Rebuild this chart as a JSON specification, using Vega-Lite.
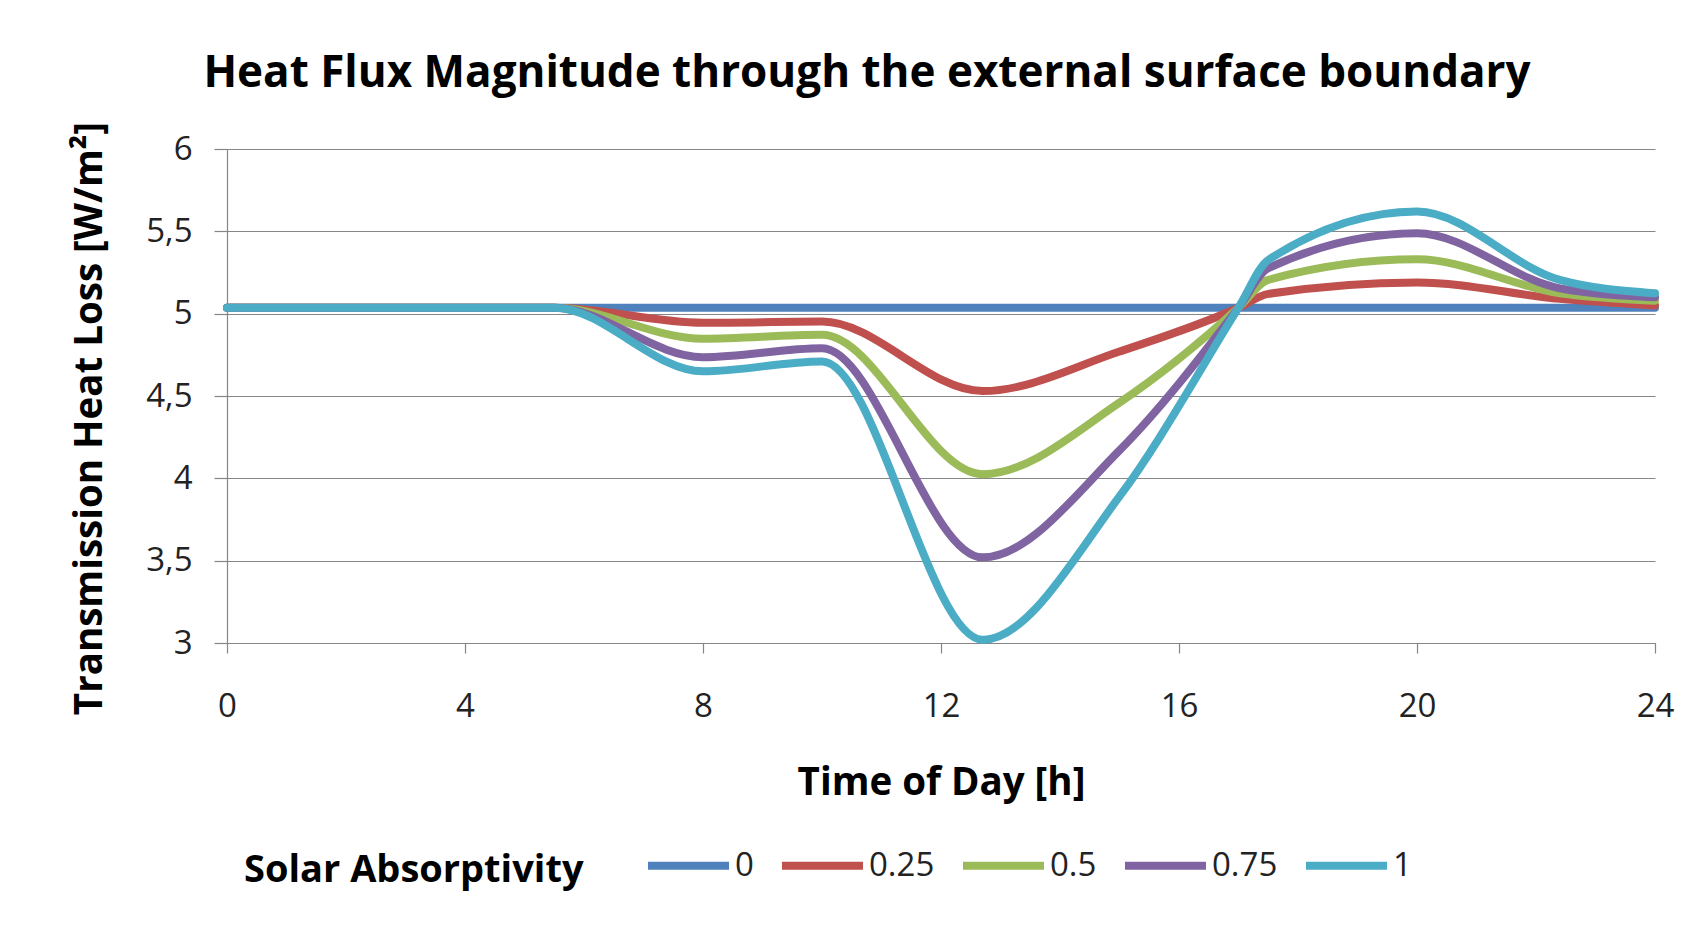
{
  "$schema": "https://vega.github.io/schema/vega-lite/v6.json",
  "width": 1428,
  "height": 494,
  "autosize": {"type": "none"},
  "padding": {"left": 227, "top": 149, "right": 49, "bottom": 301},
  "background": "white",
  "title": {
    "text": "Heat Flux Magnitude through the external surface boundary",
    "font": "Open Sans",
    "fontSize": 44,
    "fontWeight": "bold",
    "color": "#000000",
    "anchor": "middle",
    "dx": -74,
    "offset": -10,
    "baseline": "alphabetic"
  },
  "config": {"view": {"stroke": null}, "font": "Open Sans"},
  "data": {
    "values": [
      {"hour": 0, "val": 5.036, "a": "0"},
      {"hour": 5.5, "val": 5.036, "a": "0"},
      {"hour": 8, "val": 5.036, "a": "0"},
      {"hour": 10, "val": 5.036, "a": "0"},
      {"hour": 12.7, "val": 5.036, "a": "0"},
      {"hour": 15, "val": 5.036, "a": "0"},
      {"hour": 17, "val": 5.036, "a": "0"},
      {"hour": 17.5, "val": 5.036, "a": "0"},
      {"hour": 20, "val": 5.036, "a": "0"},
      {"hour": 22.4, "val": 5.036, "a": "0"},
      {"hour": 24, "val": 5.036, "a": "0"},

      {"hour": 0, "val": 5.036, "a": "0.25"},
      {"hour": 5.5, "val": 5.036, "a": "0.25"},
      {"hour": 8, "val": 4.945, "a": "0.25"},
      {"hour": 10, "val": 4.952, "a": "0.25"},
      {"hour": 12.7, "val": 4.53, "a": "0.25"},
      {"hour": 15, "val": 4.77, "a": "0.25"},
      {"hour": 17, "val": 5.036, "a": "0.25"},
      {"hour": 17.5, "val": 5.12, "a": "0.25"},
      {"hour": 20, "val": 5.19, "a": "0.25"},
      {"hour": 22.4, "val": 5.09, "a": "0.25"},
      {"hour": 24, "val": 5.05, "a": "0.25"},

      {"hour": 0, "val": 5.036, "a": "0.5"},
      {"hour": 5.5, "val": 5.036, "a": "0.5"},
      {"hour": 8, "val": 4.848, "a": "0.5"},
      {"hour": 10, "val": 4.872, "a": "0.5"},
      {"hour": 12.7, "val": 4.025, "a": "0.5"},
      {"hour": 15, "val": 4.46, "a": "0.5"},
      {"hour": 17, "val": 5.036, "a": "0.5"},
      {"hour": 17.5, "val": 5.205, "a": "0.5"},
      {"hour": 20, "val": 5.33, "a": "0.5"},
      {"hour": 22.4, "val": 5.124, "a": "0.5"},
      {"hour": 24, "val": 5.079, "a": "0.5"},

      {"hour": 0, "val": 5.036, "a": "0.75"},
      {"hour": 5.5, "val": 5.036, "a": "0.75"},
      {"hour": 8, "val": 4.736, "a": "0.75"},
      {"hour": 10, "val": 4.79, "a": "0.75"},
      {"hour": 12.7, "val": 3.52, "a": "0.75"},
      {"hour": 15, "val": 4.17, "a": "0.75"},
      {"hour": 17, "val": 5.036, "a": "0.75"},
      {"hour": 17.5, "val": 5.276, "a": "0.75"},
      {"hour": 20, "val": 5.488, "a": "0.75"},
      {"hour": 22.4, "val": 5.154, "a": "0.75"},
      {"hour": 24, "val": 5.1, "a": "0.75"},

      {"hour": 0, "val": 5.036, "a": "1"},
      {"hour": 5.5, "val": 5.036, "a": "1"},
      {"hour": 8, "val": 4.65, "a": "1"},
      {"hour": 10, "val": 4.71, "a": "1"},
      {"hour": 12.7, "val": 3.02, "a": "1"},
      {"hour": 15, "val": 3.89, "a": "1"},
      {"hour": 17, "val": 5.036, "a": "1"},
      {"hour": 17.5, "val": 5.326, "a": "1"},
      {"hour": 20, "val": 5.62, "a": "1"},
      {"hour": 22.4, "val": 5.205, "a": "1"},
      {"hour": 24, "val": 5.124, "a": "1"}
    ]
  },
  "mark": {"type": "line", "interpolate": "monotone", "strokeWidth": 8, "strokeCap": "round", "strokeJoin": "round"},
  "encoding": {
    "x": {
      "field": "hour",
      "type": "quantitative",
      "scale": {"domain": [0, 24], "nice": false},
      "axis": {
        "values": [0, 4, 8, 12, 16, 20, 24],
        "grid": false,
        "domainColor": "#868686",
        "domainWidth": 1.2,
        "tickColor": "#868686",
        "tickWidth": 1.2,
        "tickSize": 10,
        "labelPadding": 37,
        "labelFontSize": 33,
        "labelColor": "#222222",
        "labelFlush": false,
        "title": "Time of Day [h]",
        "titleFontSize": 38.5,
        "titleFontWeight": "bold",
        "titleColor": "#000000",
        "titleY": 139,
        "titleBaseline": "middle"
      }
    },
    "y": {
      "field": "val",
      "type": "quantitative",
      "scale": {"domain": [3, 6], "nice": false, "zero": false},
      "axis": {
        "values": [3, 3.5, 4, 4.5, 5, 5.5, 6],
        "labelExpr": "replace(format(datum.value, '~g'), '.', ',')",
        "grid": true,
        "gridColor": "#868686",
        "gridWidth": 1.2,
        "domainColor": "#868686",
        "domainWidth": 1.2,
        "tickColor": "#868686",
        "tickWidth": 1.2,
        "tickSize": 13,
        "labelPadding": 22,
        "labelFontSize": 33,
        "labelColor": "#222222",
        "title": "Transmission Heat Loss [W/m²]",
        "titleFontSize": 38.5,
        "titleFontWeight": "bold",
        "titleColor": "#000000",
        "titleX": -138,
        "titleY": 269,
        "titleAngle": -90,
        "titleAlign": "center",
        "titleBaseline": "middle"
      }
    },
    "color": {
      "field": "a",
      "type": "nominal",
      "scale": {
        "domain": ["0", "0.25", "0.5", "0.75", "1"],
        "range": ["#4F81BD", "#C0504D", "#9BBB59", "#8064A2", "#4BACC6"]
      },
      "legend": {
        "orient": "none",
        "legendX": 17,
        "legendY": 672,
        "direction": "horizontal",
        "title": "Solar Absorptivity",
        "titleOrient": "left",
        "titleFontSize": 38,
        "titleFontWeight": "bold",
        "titleColor": "#000000",
        "titleLimit": 600,
        "titlePadding": 60,
        "titleBaseline": "top",
        "titleAnchor": "middle",
        "titleLineHeight": 30,
        "labelFontSize": 33,
        "labelColor": "#222222",
        "symbolType": "stroke",
        "symbolSize": 6561,
        "symbolStrokeWidth": 8,
        "labelOffset": 2,
        "columnPadding": 12
      }
    }
  }
}
